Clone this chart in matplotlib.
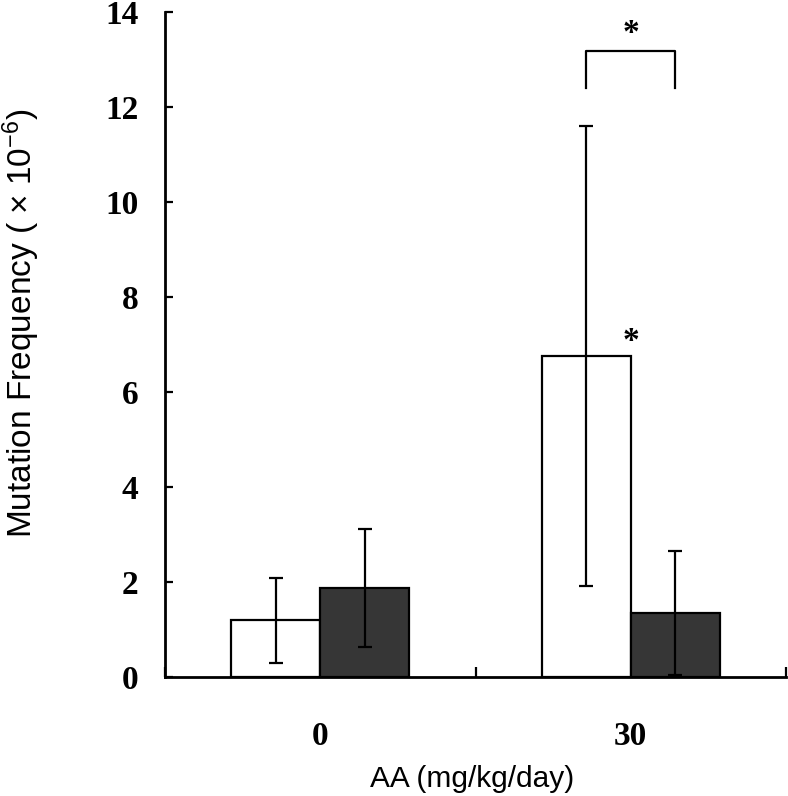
import numpy as np
import matplotlib
matplotlib.use("Agg")
import matplotlib.pyplot as plt

groups = ["0", "30"]
white_mean = [1.19, 6.76]
white_sd = [0.90, 4.84]
dark_mean = [1.87, 1.35]
dark_sd = [1.24, 1.30]
yticks = [0, 2, 4, 6, 8, 10, 12, 14]

serif = ["Liberation Serif", "DejaVu Serif"]
sans = ["Liberation Sans", "DejaVu Sans"]
plt.rcParams["mathtext.fontset"] = "custom"
plt.rcParams["mathtext.rm"] = "Liberation Sans"
plt.rcParams["mathtext.default"] = "rm"

fig = plt.figure(figsize=(7.88, 7.96), dpi=100)
ax = fig.add_axes([165 / 788, 1 - 677 / 796, 621 / 788, 665 / 796])

x = np.arange(len(groups)) + 0.5
w = 0.286
err_kw = dict(ecolor="black", elinewidth=1.6, capsize=5, capthick=1.6)
ax.bar(x - w / 2, white_mean, w, yerr=white_sd, color="white",
       edgecolor="black", linewidth=1.6, error_kw=err_kw, zorder=2)
ax.bar(x + w / 2, dark_mean, w, yerr=dark_sd, color="#363636",
       edgecolor="black", linewidth=1.6, error_kw=err_kw, zorder=2)

ax.set_xlim(0, 2)
ax.set_ylim(0, 14)
for s in ["top", "right"]:
    ax.spines[s].set_visible(False)
for s in ["left", "bottom"]:
    ax.spines[s].set_linewidth(2)

ax.set_yticks(yticks)
ax.set_yticklabels([str(v) for v in yticks], fontfamily=serif,
                   fontweight="bold", fontsize=24)
ax.tick_params(axis="y", direction="in", length=6, width=1.6, pad=19)

ax.set_xticks([0, 1, 2])
ax.set_xticklabels([])
ax.tick_params(axis="x", which="major", direction="in", length=7, width=1.6)
ax.set_xticks(x, minor=True)
ax.set_xticklabels(groups, minor=True, fontfamily=serif,
                   fontweight="bold", fontsize=24)
ax.tick_params(axis="x", which="minor", length=0, pad=32)

# significance marks
i = 1
ax.text(x[i], white_mean[i] + 0.3, "*", ha="center", va="center",
        fontsize=24, fontweight="bold", fontfamily=serif)
xl, xr = x[i] - w / 2, x[i] + w / 2
ax.plot([xl, xl, xr, xr], [12.4, 13.18, 13.18, 12.4], color="black",
        lw=1.6, clip_on=False)
ax.text(x[i], 13.55, "*", ha="center", va="center",
        fontsize=24, fontweight="bold", fontfamily=serif)

fig.text(472 / 788, 1 - 779 / 796, "AA (mg/kg/day)", ha="center", va="center",
         fontfamily=sans, fontsize=21.5)
fig.text(21 / 788, 1 - 323 / 796, "Mutation Frequency ( \u00d7 10$^{-6}$)",
         ha="center", va="center", rotation=90, fontfamily=sans, fontsize=24)

fig.savefig("out.png", dpi=100)
